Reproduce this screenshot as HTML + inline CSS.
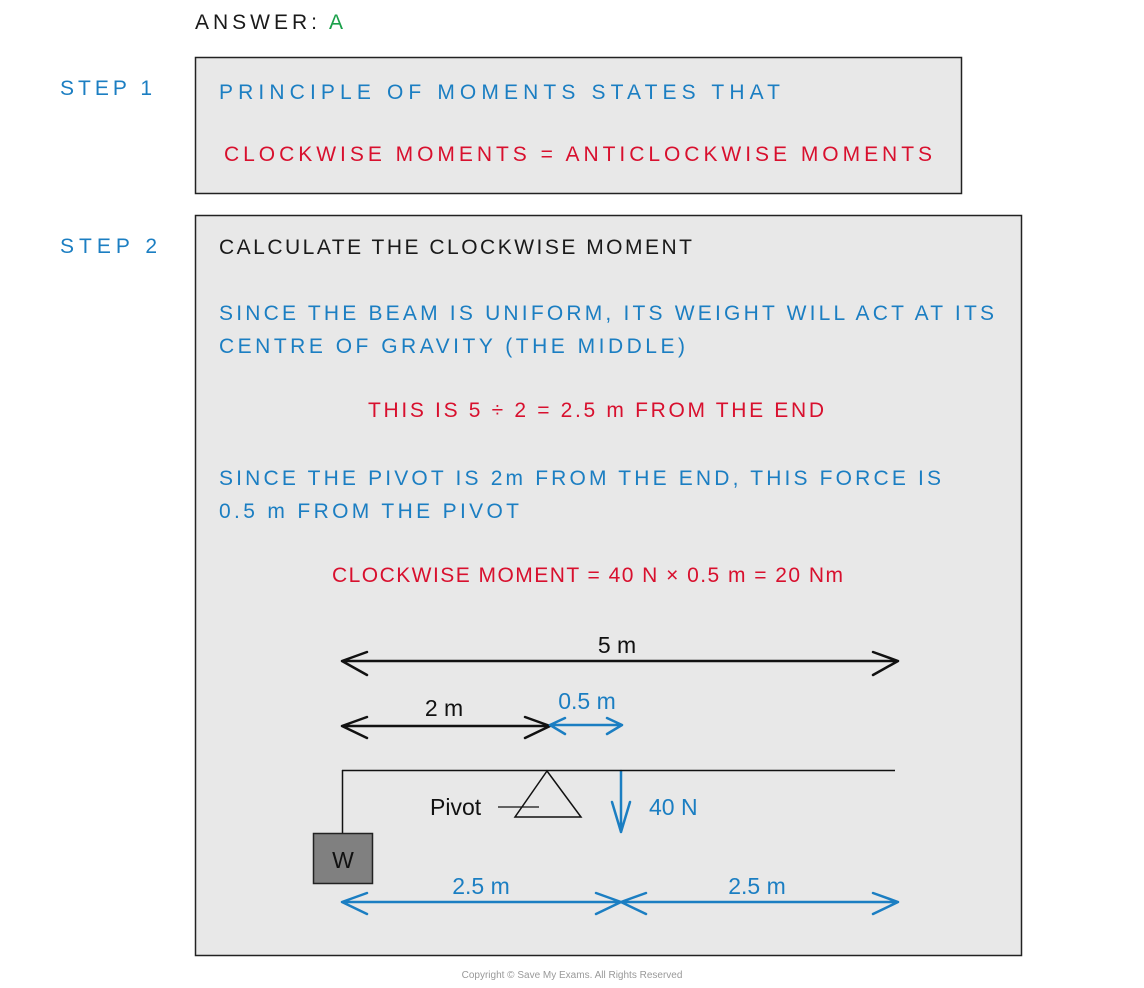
<!DOCTYPE html>
<html><head><meta charset="utf-8"><style>
html,body{margin:0;padding:0;background:#fff;width:1144px;height:988px;overflow:hidden}
svg{display:block}
text{font-family:"Liberation Sans",sans-serif}
.t{font-size:21px}
.b{fill:#1b7ec2}.r{fill:#d8102e}.k{fill:#1a1a1a}
.d{font-size:23px}
</style></head><body>
<svg width="1144" height="988" viewBox="0 0 1144 988" xmlns="http://www.w3.org/2000/svg">
<text x="195" y="29" class="t k" textLength="122" lengthAdjust="spacing">ANSWER:</text>
<text x="329" y="29" class="t" fill="#1aa04a">A</text>
<text x="60" y="95" class="t b" textLength="92" lengthAdjust="spacing">STEP 1</text>
<text x="60" y="253" class="t b" textLength="97" lengthAdjust="spacing">STEP 2</text>

<rect x="195.5" y="57.5" width="766" height="136" fill="#e8e8e8" stroke="#222" stroke-width="1.5"/>
<text x="219" y="99" class="t b" textLength="561" lengthAdjust="spacing">PRINCIPLE  OF  MOMENTS  STATES  THAT</text>
<text x="224" y="161" class="t r" textLength="708" lengthAdjust="spacing">CLOCKWISE  MOMENTS = ANTICLOCKWISE  MOMENTS</text>

<rect x="195.5" y="215.5" width="826" height="740" fill="#e8e8e8" stroke="#222" stroke-width="1.5"/>
<text x="219" y="254" class="t k" textLength="473" lengthAdjust="spacing">CALCULATE  THE  CLOCKWISE  MOMENT</text>
<text x="219" y="320" class="t b" textLength="775" lengthAdjust="spacing">SINCE  THE  BEAM  IS  UNIFORM,  ITS  WEIGHT  WILL  ACT  AT  ITS</text>
<text x="219" y="353" class="t b" textLength="466" lengthAdjust="spacing">CENTRE  OF  GRAVITY   (THE  MIDDLE)</text>
<text x="368" y="417" class="t r" textLength="456" lengthAdjust="spacing">THIS  IS  5 ÷ 2 = 2.5 m  FROM  THE  END</text>
<text x="219" y="485" class="t b" textLength="722" lengthAdjust="spacing">SINCE  THE  PIVOT  IS  2m  FROM  THE  END,  THIS  FORCE  IS</text>
<text x="219" y="518" class="t b" textLength="300" lengthAdjust="spacing">0.5 m  FROM  THE  PIVOT</text>
<text x="332" y="582" class="t r" textLength="511" lengthAdjust="spacing">CLOCKWISE  MOMENT = 40 N × 0.5 m = 20 Nm</text>

<g fill="none" stroke-width="2.5" stroke-linecap="round" stroke-linejoin="round">
<g stroke="#111">
<path d="M342 661H898M367 652L342 661L367 675M873 652L898 661L873 675"/>
<path d="M342 726H550M367 717L342 726L367 738M525 717L550 726L525 738"/>
</g>
<g stroke="#1b7ec2">
<path d="M550 725H622M565 718L550 725L565 734M607 718L622 725L607 734"/>
<path d="M342 902H898M367 893L342 902L367 914M596 893L621 902L596 914M646 893L621 902L646 914M873 893L898 902L873 914"/>
<path d="M621 771V832M612 802L621 832L630 802"/>
</g>
</g>
<path d="M342 770.5H895M342.5 770V833" stroke="#111" stroke-width="1.5" fill="none"/>
<path d="M547 771L581 817H515Z" fill="none" stroke="#111" stroke-width="1.5"/>
<path d="M498 807H539" stroke="#111" stroke-width="1.2"/>
<rect x="313.5" y="833.5" width="59" height="50" fill="#808080" stroke="#222" stroke-width="1.5"/>
<text x="343" y="868" class="d" fill="#111" text-anchor="middle">W</text>
<text x="617" y="653" class="d" fill="#111" text-anchor="middle">5 m</text>
<text x="444" y="716" class="d" fill="#111" text-anchor="middle">2 m</text>
<text x="587" y="709" class="d b" text-anchor="middle">0.5 m</text>
<text x="430" y="815" class="d" fill="#111">Pivot</text>
<text x="649" y="815" class="d b">40 N</text>
<text x="481" y="894" class="d b" text-anchor="middle">2.5 m</text>
<text x="757" y="894" class="d b" text-anchor="middle">2.5 m</text>
<text x="572" y="978" font-size="10" fill="#999" text-anchor="middle">Copyright © Save My Exams. All Rights Reserved</text>
</svg>
</body></html>
